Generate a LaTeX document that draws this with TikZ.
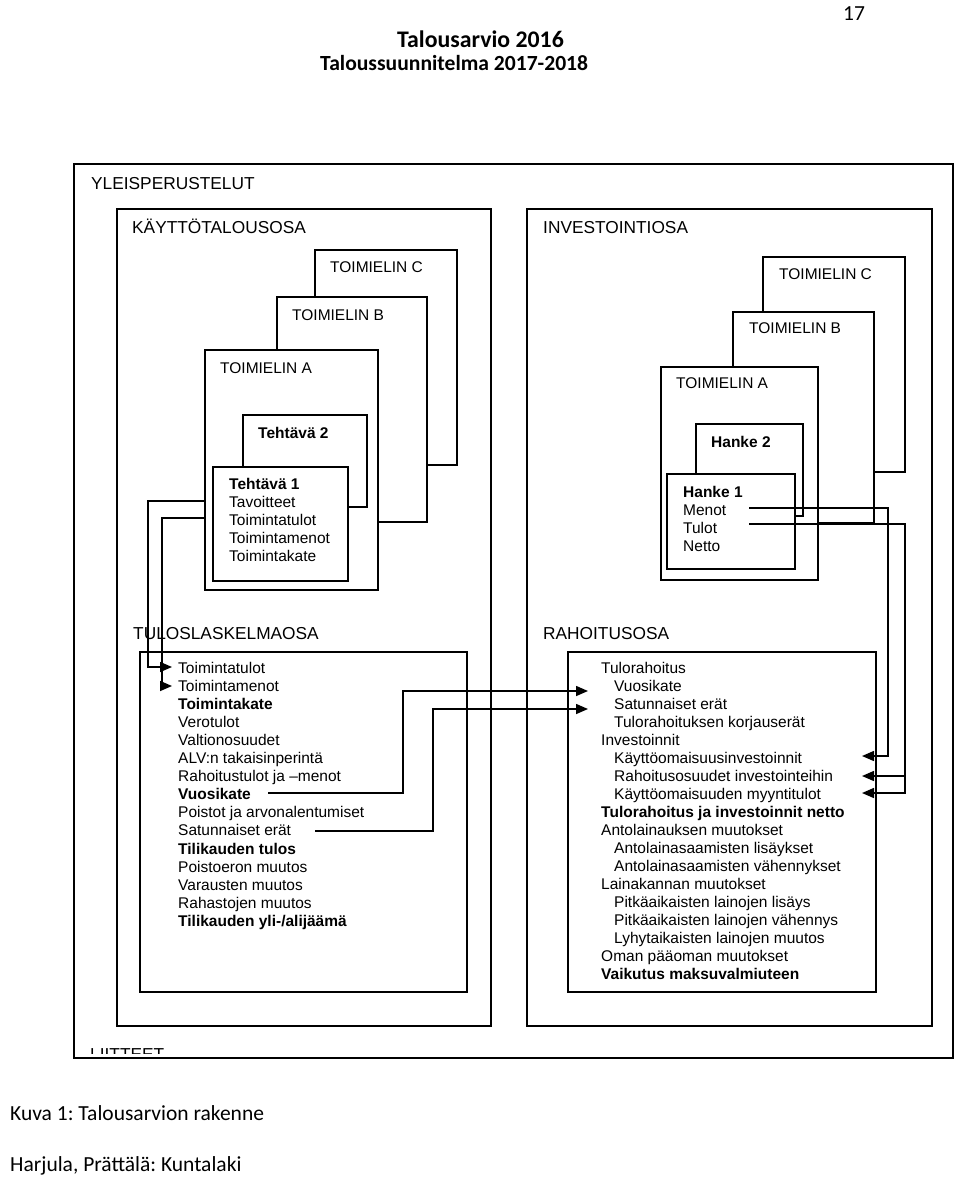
\documentclass[tikz,border=0pt]{standalone}
\usepackage{fontspec}
\setmainfont{Liberation Sans}
\newfontfamily\calfont{Carlito}
\usetikzlibrary{arrows.meta}
\frenchspacing
\tikzset{
  box/.style={draw, line width=1.5pt, fill=white, inner sep=0pt, outer sep=0pt},
  conn/.style={line width=1.5pt},
  arr/.style={conn, -{Triangle[length=12pt,width=10pt]}},
  txt/.style={anchor=base west, inner sep=0pt, font=\fontsize{15.5}{18}\selectfont},
  btxt/.style={anchor=base west, inner sep=0pt, font=\fontsize{15.5}{18}\selectfont\bfseries},
  hdr/.style={anchor=base west, inner sep=0pt, font=\fontsize{17.3}{20}\selectfont},
  pagetxt/.style={anchor=base west, inner sep=0pt, font=\calfont\fontsize{21.5}{24}\selectfont},
  headtxt/.style={anchor=base west, inner sep=0pt, font=\calfont\bfseries\fontsize{23.8}{26}\selectfont},
  subheadtxt/.style={anchor=base west, inner sep=0pt, font=\calfont\bfseries\fontsize{21.6}{24}\selectfont},
}
\newcommand\mybox[5]{\node[box,anchor=north west,minimum width={#4pt-#2pt},minimum height={#5pt-#3pt}] (#1) at (#2,#3) {};}
\begin{document}
\begin{tikzpicture}[x=1pt,y=-1pt]
\useasboundingbox[fill=white] (0,0) rectangle (960,1178);
% page header / footer
\node[pagetxt] (pnum) at (843,20) {17};
\node[headtxt] (h1) at (397,47.5) {Talousarvio 2016};
\node[subheadtxt] (h2) at (320,70.5) {Taloussuunnitelma 2017-2018};
\node[pagetxt] (cap1) at (10,1120) {Kuva 1: Talousarvion rakenne};
\node[pagetxt] (cap2) at (10,1171) {Harjula, Prättälä: Kuntalaki};
% boxes
\mybox{outer}{74}{164}{953}{1058}
\begin{scope}
\clip (76,1040) rectangle (951,1053);
\node[hdr] (liit) at (90,1060.4) {LIITTEET};
\end{scope}
\mybox{kayt}{117}{209}{491}{1026}
\mybox{LC}{315}{250}{457}{465}
\mybox{LB}{277}{297}{427}{522}
\mybox{LA}{205}{350}{378}{590}
\mybox{T2}{243}{415}{367}{507}
\mybox{T1}{213}{467}{348}{581}
\mybox{tulos}{140}{652}{467}{992}
\mybox{inv}{527}{209}{932}{1026}
\mybox{RC}{763}{257}{905}{472}
\mybox{RB}{733}{312}{874}{523}
\mybox{RA}{661}{367}{818}{580}
\mybox{H2}{696}{424}{803}{516}
\mybox{H1}{667}{474}{795}{569}
\mybox{rah}{568}{652}{876}{992}
% labels
\node[hdr] (lyle) at (91,189) {YLEISPERUSTELUT};
\node[hdr] (lkayt) at (132,233) {KÄYTTÖTALOUSOSA};
\node[txt] (lLC) at (330,272.5) {TOIMIELIN C};
\node[txt] (lLB) at (292,320.5) {TOIMIELIN B};
\node[txt] (lLA) at (220,373.5) {TOIMIELIN A};
\node[btxt] (lT2) at (258,438.5) {Tehtävä 2};
\foreach \t [count=\i from 0] in {\textbf{Tehtävä 1}, Tavoitteet, Toimintatulot, Toimintamenot, Toimintakate}
  \node[txt] (t1\i) at (229,{489.5+18*\i}) {\t};
\node[hdr] (ltulos) at (133,639) {TULOSLASKELMAOSA};
\foreach \t [count=\i from 0] in {Toimintatulot, Toimintamenot, \textbf{Toimintakate}, Verotulot, Valtionosuudet, ALV:n takaisinperintä, Rahoitustulot ja –menot, \textbf{Vuosikate}, Poistot ja arvonalentumiset, Satunnaiset erät, \textbf{Tilikauden tulos}, Poistoeron muutos, Varausten muutos, Rahastojen muutos, \textbf{Tilikauden yli-/alijäämä}}
  \node[txt] (tl\i) at (178,{673.5+18.05*\i}) {\t};
\node[hdr] (linv) at (543,233) {INVESTOINTIOSA};
\node[txt] (lRC) at (779,279.5) {TOIMIELIN C};
\node[txt] (lRB) at (749,333.5) {TOIMIELIN B};
\node[txt] (lRA) at (676,388.5) {TOIMIELIN A};
\node[btxt] (lH2) at (711,447.5) {Hanke 2};
\foreach \t [count=\i from 0] in {\textbf{Hanke 1}, Menot, Tulot, Netto}
  \node[txt] (h1\i) at (683,{497.5+18*\i}) {\t};
\node[hdr] (lrah) at (543,639) {RAHOITUSOSA};
\foreach \d/\t [count=\i from 0] in {0/Tulorahoitus, 1/Vuosikate, 1/Satunnaiset erät, 1/Tulorahoituksen korjauserät, 0/Investoinnit, 1/Käyttöomaisuusinvestoinnit, 1/Rahoitusosuudet investointeihin, 1/Käyttöomaisuuden myyntitulot, 0/\textbf{Tulorahoitus ja investoinnit netto}, 0/Antolainauksen muutokset, 1/Antolainasaamisten lisäykset, 1/Antolainasaamisten vähennykset, 0/Lainakannan muutokset, 1/Pitkäaikaisten lainojen lisäys, 1/Pitkäaikaisten lainojen vähennys, 1/Lyhytaikaisten lainojen muutos, 0/Oman pääoman muutokset, 0/\textbf{Vaikutus maksuvalmiuteen}}
  \node[txt] (r\i) at ({601+13*\d},{673.5+18.02*\i}) {\t};
% connector end points
\coordinate (aTulo) at (172,667);
\coordinate (aMeno) at (172,686);
\coordinate (sVuosi) at (268,793);
\coordinate (sSatu) at (315,831);
\coordinate (aVuosi) at (588,691);
\coordinate (aSatu) at (588,709);
\coordinate (sMenot) at (749,508);
\coordinate (sTulot) at (749,524);
\coordinate (aKayt) at (862,756);
\coordinate (aRaho) at (862,776);
\coordinate (aMyyn) at (862,793);
% connectors
\draw[arr] (LA.west |- 0,501) -| (148,667) -- (aTulo);
\draw[arr] (LA.west |- 0,518) -| (162,686) -- (aMeno);
\draw[arr] (sVuosi) -| (403,691) -- (aVuosi);
\draw[arr] (sSatu) -| (433,709) -- (aSatu);
\draw[arr] (sMenot) -| (888,756) -- (aKayt);
\draw[arr] (sTulot) -| (905,793) -- (aMyyn);
\draw[arr] (905,776) -- (aRaho);
\end{tikzpicture}
\end{document}
